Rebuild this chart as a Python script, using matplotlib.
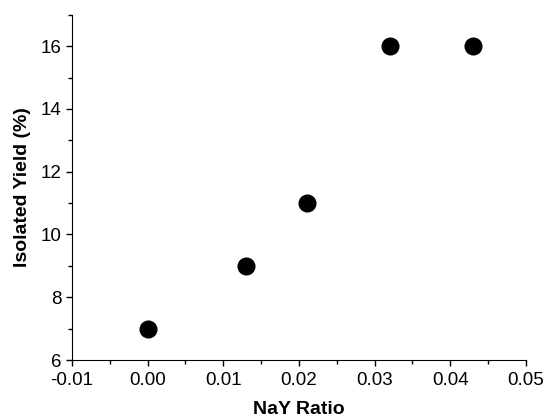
import matplotlib.pyplot as plt
from matplotlib.ticker import MultipleLocator

plt.rcParams['font.family'] = ['Liberation Sans', 'DejaVu Sans']

nay_ratio = [0.0, 0.013, 0.021, 0.032, 0.043]
rendimiento = [7, 9, 11, 16, 16]

fig = plt.figure(figsize=(5.47, 4.19), dpi=100)
ax = fig.add_axes([0.1316, 0.1408, 0.83, 0.824])

ax.plot(nay_ratio, rendimiento, 'o', color='black', markersize=12)

ax.set_xlim(-0.01, 0.05)
ax.set_ylim(6, 17)
ax.xaxis.set_major_locator(MultipleLocator(0.01))
ax.xaxis.set_minor_locator(MultipleLocator(0.005))
ax.yaxis.set_major_locator(MultipleLocator(2))
ax.yaxis.set_minor_locator(MultipleLocator(1))
ax.xaxis.set_major_formatter(plt.FuncFormatter(lambda v, p: f'{v:.2f}'))

for s in ['top', 'right']:
    ax.spines[s].set_visible(False)
ax.tick_params(which='major', direction='out', length=4.5, width=1, labelsize=13.5, pad=3)
ax.tick_params(axis='x', which='major', pad=4)
ax.tick_params(which='minor', direction='out', length=3, width=1)

ax.set_xlabel('NaY Ratio', fontsize=14, fontweight='bold', labelpad=8.5)
ax.set_ylabel('Isolated Yield (%)', fontsize=14, fontweight='bold', labelpad=7)

fig.savefig('out.png', dpi=100)
